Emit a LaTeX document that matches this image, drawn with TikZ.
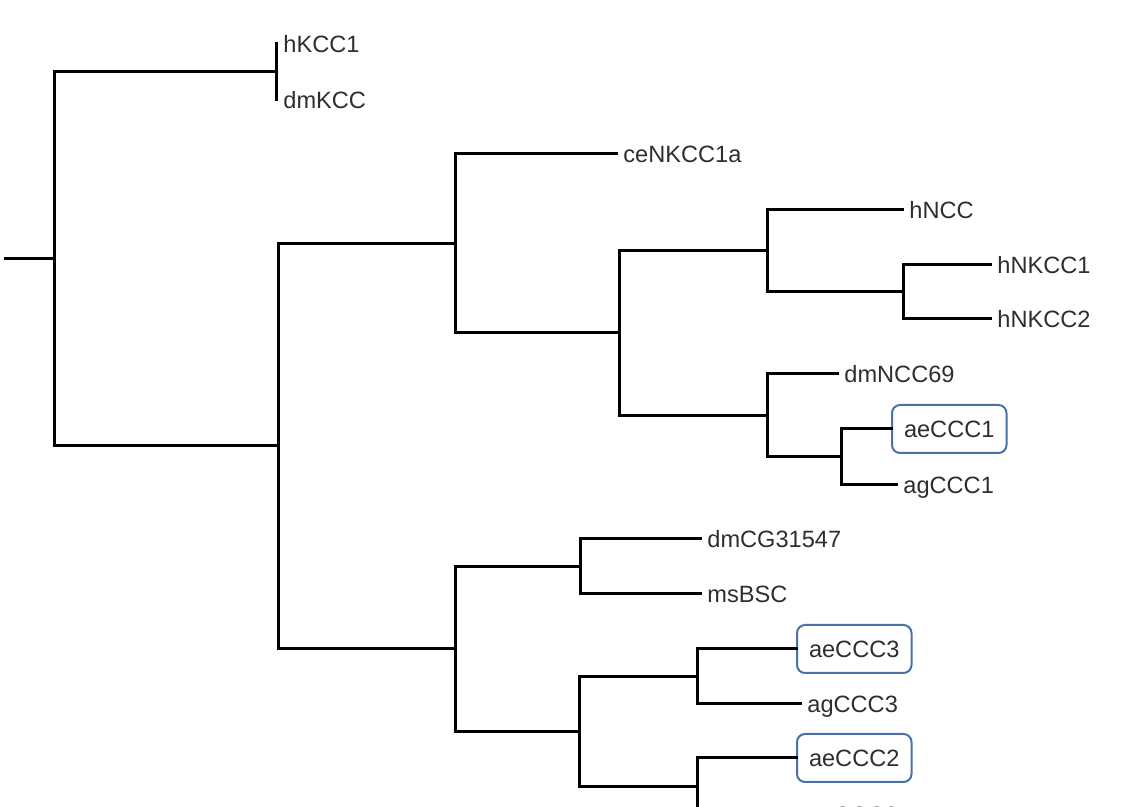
\documentclass[tikz,border=0pt]{standalone}
\usepackage{fontspec}
\setsansfont{Liberation Sans}
\usepackage{xcolor}
\definecolor{boxblue}{HTML}{4A72A6}
\definecolor{labelgray}{HTML}{2E2E2E}

\begin{document}
\begin{tikzpicture}[
		x=0.5pt, y=-0.5pt,
		line cap=rect, line join=miter,
		branch/.style={line width=1.5pt, black},
		leaf/.style={anchor=west, inner xsep=3.5pt, inner ysep=0pt,
				text height=8.5pt, text depth=0pt, text=labelgray,
				font=\sffamily\fontsize{11.8}{14}\selectfont},
		hilite/.style={leaf, draw=boxblue, line width=1pt, rounded corners=4pt,
				inner xsep=6pt, minimum height=24pt}]

	% ---- area visibile (l'ultima foglia esce dal bordo) ----
	\clip (0,0) rectangle (1137,807);

	% ---- nodi interni ----
	\coordinate (base) at (5,259);
	\coordinate (root) at (54,259);
	\coordinate (kcc)  at (276,72);
	\coordinate (core) at (278,446);
	\coordinate (n1)   at (455,244);
	\coordinate (n3)   at (619,333);
	\coordinate (n4)   at (767,251);
	\coordinate (n6)   at (903,292);
	\coordinate (n5)   at (767,415.5);
	\coordinate (n7)   at (841,457);
	\coordinate (n2)   at (455,649);
	\coordinate (n8)   at (580,566.5);
	\coordinate (n9)   at (579,731.5);
	\coordinate (n10)  at (697,676.5);
	\coordinate (n11)  at (697,786.5);

	% ---- foglie ----
	\node[leaf]   (hKCC1)     at (276,44)  {hKCC1};
	\node[leaf]   (dmKCC)     at (276,100) {dmKCC};
	\node[leaf]   (ceNKCC1a)  at (616,154) {ceNKCC1a};
	\node[leaf]   (hNCC)      at (902,210) {hNCC};
	\node[leaf]   (hNKCC1)    at (990,265) {hNKCC1};
	\node[leaf]   (hNKCC2)    at (990,319) {hNKCC2};
	\node[leaf]   (dmNCC69)   at (837,374) {dmNCC69};
	\node[hilite] (aeCCC1)    at (891,429) {aeCCC1};
	\node[leaf]   (agCCC1)    at (896,485) {agCCC1};
	\node[leaf]   (dmCG31547) at (700,539) {dmCG31547};
	\node[leaf]   (msBSC)     at (700,594) {msBSC};
	\node[hilite] (aeCCC3)    at (796,649) {aeCCC3};
	\node[leaf]   (agCCC3)    at (800,704) {agCCC3};
	\node[hilite] (aeCCC2)    at (796,758) {aeCCC2};
	\node[leaf]   (agCCC2)    at (800,815) {agCCC2};

	% ---- rami ----
	\draw[branch] (base) -- (root);
	\draw[branch] (root) |- (kcc);
	\draw[branch] (root) |- (core);
	\draw[branch] (kcc) |- (hKCC1.west);
	\draw[branch] (kcc) |- (dmKCC.west);
	\draw[branch] (core) |- (n1);
	\draw[branch] (core) |- (n2);
	\draw[branch] (n1) |- (ceNKCC1a.west);
	\draw[branch] (n1) |- (n3);
	\draw[branch] (n3) |- (n4);
	\draw[branch] (n3) |- (n5);
	\draw[branch] (n4) |- (hNCC.west);
	\draw[branch] (n4) |- (n6);
	\draw[branch] (n6) |- (hNKCC1.west);
	\draw[branch] (n6) |- (hNKCC2.west);
	\draw[branch] (n5) |- (dmNCC69.west);
	\draw[branch] (n5) |- (n7);
	\draw[branch] (n7) |- (aeCCC1.west);
	\draw[branch] (n7) |- (agCCC1.west);
	\draw[branch] (n2) |- (n8);
	\draw[branch] (n2) |- (n9);
	\draw[branch] (n8) |- (dmCG31547.west);
	\draw[branch] (n8) |- (msBSC.west);
	\draw[branch] (n9) |- (n10);
	\draw[branch] (n9) |- (n11);
	\draw[branch] (n10) |- (aeCCC3.west);
	\draw[branch] (n10) |- (agCCC3.west);
	\draw[branch] (n11) |- (aeCCC2.west);
	\draw[branch] (n11) |- (agCCC2.west);

\end{tikzpicture}
\end{document}
